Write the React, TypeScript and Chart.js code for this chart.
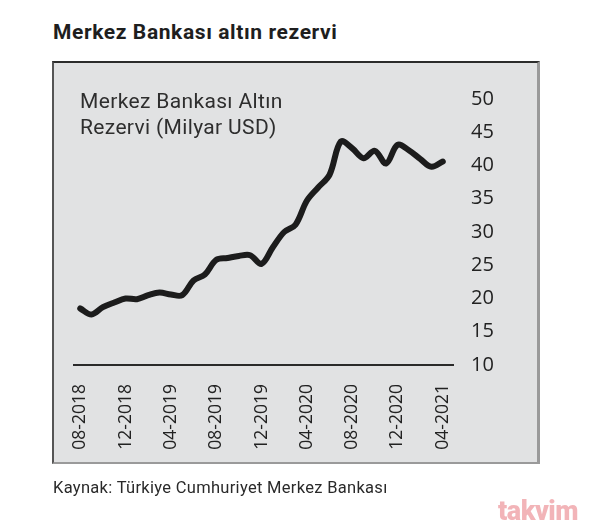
import React, { useEffect, useRef } from "react";
import { Chart, registerables } from "chart.js";

Chart.register(...registerables);

const months = [
  "08-2018", "09-2018", "10-2018", "11-2018", "12-2018", "01-2019", "02-2019", "03-2019",
  "04-2019", "05-2019", "06-2019", "07-2019", "08-2019", "09-2019", "10-2019", "11-2019",
  "12-2019", "01-2020", "02-2020", "03-2020", "04-2020", "05-2020", "06-2020", "07-2020",
  "08-2020", "09-2020", "10-2020", "11-2020", "12-2020", "01-2021", "02-2021", "03-2021",
  "04-2021",
];

const reserves = [
  18.5, 17.6, 18.7, 19.4, 20.0, 19.9, 20.5, 20.9,
  20.6, 20.5, 22.7, 23.6, 25.8, 26.1, 26.4, 26.5,
  25.2, 27.7, 30.0, 31.1, 34.7, 36.7, 38.6, 43.6,
  42.6, 41.1, 42.2, 40.3, 43.1, 42.3, 41.0, 39.8,
  40.6,
];

const shownTickIndexes = [0, 4, 8, 12, 16, 20, 24, 28, 32];
const yTicks = [10, 15, 20, 25, 30, 35, 40, 45, 50];

const title = "Merkez Bankası altın rezervi";
const seriesTitle = ["Merkez Bankası Altın", "Rezervi (Milyar USD)"];
const source = "Kaynak: Türkiye Cumhuriyet Merkez Bankası";

export default function App() {
  const canvasRef = useRef<HTMLCanvasElement | null>(null);

  useEffect(() => {
    document.body.style.margin = "0";
    const canvas = canvasRef.current;
    if (!canvas) return;
    const chart = new Chart(canvas, {
      type: "line",
      data: {
        datasets: [
          {
            data: reserves.map((v, i) => ({ x: i, y: v })),
            borderColor: "#1c1c1c",
            borderWidth: 6,
            borderCapStyle: "round",
            borderJoinStyle: "round",
            pointRadius: 0,
            tension: 0.35,
            fill: false,
          },
        ],
      },
      options: {
        animation: false,
        responsive: false,
        devicePixelRatio: 1,
        layout: { padding: { left: 74, top: 99, right: 87, bottom: 61 } },
        plugins: { legend: { display: false }, tooltip: { enabled: false } },
        scales: {
          x: {
            type: "linear",
            min: -0.55,
            max: 32.9,
            grid: { display: false },
            border: { display: true, color: "#2a2a2a", width: 2 },
            afterBuildTicks: (scale: any) => {
              scale.ticks = shownTickIndexes.map((v) => ({ value: v }));
            },
            afterFit: (scale: any) => {
              scale.height = 100;
            },
            ticks: {
              autoSkip: false,
              minRotation: 90,
              maxRotation: 90,
              padding: 11,
              color: "#222",
              font: { family: "'Open Sans'", size: 17.5 },
              callback: (v: any) => months[v as number] ?? "",
            },
          },
          y: {
            position: "right",
            min: 10,
            max: 50,
            grid: { display: false },
            border: { display: false },
            afterBuildTicks: (scale: any) => {
              scale.ticks = yTicks.map((v) => ({ value: v }));
            },
            afterFit: (scale: any) => {
              scale.width = 60;
            },
            ticks: {
              padding: 10,
              color: "#222",
              font: { family: "'Open Sans'", size: 20 },
            },
          },
        },
      },
    });
    if ((document as any).fonts) {
      (document as any).fonts.ready.then(() => chart.update());
    }
    return () => chart.destroy();
  }, []);

  return (
    <div style={{ position: "relative", width: 600, height: 526, background: "#fff", overflow: "hidden" }}>
      <div
        style={{
          position: "absolute",
          left: 53,
          top: 20,
          fontFamily: "Roboto",
          fontWeight: 700,
          fontSize: 21,
          letterSpacing: 0.6,
          color: "#1e1e1e",
          whiteSpace: "nowrap",
          lineHeight: "24px",
        }}
      >
        {title}
      </div>
      <div
        style={{
          position: "absolute",
          left: 52,
          top: 61,
          width: 488,
          height: 403,
          boxSizing: "border-box",
          background: "#e1e2e3",
          borderTop: "2px solid #2c2c2c",
          borderLeft: "2px solid #555",
          borderRight: "3px solid #9a9a9a",
          borderBottom: "2px solid #9a9a9a",
        }}
      />
      <canvas
        ref={canvasRef}
        width={600}
        height={526}
        style={{ position: "absolute", left: 0, top: 0, width: 600, height: 526 }}
      />
      <div
        style={{
          position: "absolute",
          left: 80,
          top: 88,
          fontFamily: "Roboto",
          fontWeight: 400,
          fontSize: 21,
          letterSpacing: 0.35,
          color: "#2e2e2e",
          lineHeight: "26px",
          whiteSpace: "nowrap",
        }}
      >
        <div>{seriesTitle[0]}</div>
        <div>{seriesTitle[1]}</div>
      </div>
      <div
        style={{
          position: "absolute",
          left: 53,
          top: 478,
          fontFamily: "Roboto",
          fontSize: 16.5,
          letterSpacing: 0.3,
          color: "#2a2a2a",
          whiteSpace: "nowrap",
          lineHeight: "20px",
        }}
      >
        {source}
      </div>
      <div
        style={{
          position: "absolute",
          left: 498,
          top: 497,
          fontFamily: "Roboto",
          fontWeight: 900,
          fontSize: 27,
          color: "rgba(226, 88, 98, 0.45)",
          lineHeight: "28px",
          whiteSpace: "nowrap",
          letterSpacing: -0.5,
        }}
      >
        takvim
      </div>
    </div>
  );
}
